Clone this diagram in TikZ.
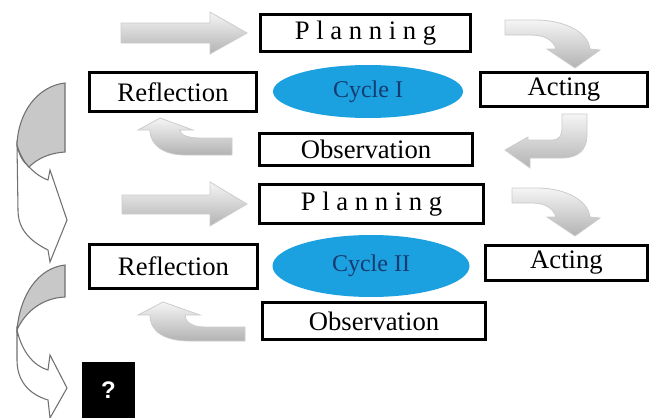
\documentclass[tikz,border=0pt]{standalone}
\usepackage{fontspec}
\setmainfont{Liberation Serif}
\setsansfont{Liberation Sans}
\usetikzlibrary{shapes.geometric}

\definecolor{cycleblue}{HTML}{1BA0E0}
\definecolor{cycletext}{HTML}{173A70}
\definecolor{bandgray}{HTML}{C8C8C8}
\definecolor{bandline}{HTML}{707070}

\begin{document}
\begin{tikzpicture}[
  x=0.75pt, y=-0.75pt,
  every node/.style={font=\fontsize{20}{24}\selectfont},
  stage/.style={rectangle, draw, line width=2pt, inner sep=0pt},
  cyclenode/.style={ellipse, fill=cycleblue, inner sep=0pt, text=cycletext, font=\fontsize{18}{22}\selectfont},
  grayarrow/.style={draw=gray!40, line width=0.6pt, top color=gray!8, bottom color=gray!60},
  bandback/.style={draw=bandline, line width=0.8pt, fill=bandgray},
  bandfront/.style={draw=bandline, line width=0.8pt, fill=white}
]
\useasboundingbox (0,0) rectangle (651,418);

% Cycle I
\node[stage, minimum width=157.75pt, minimum height=28pt] (plan1) at (365.5,33) {P l a n n i n g};
\node[stage, minimum width=125.5pt, minimum height=29.5pt] (refl1) at (173,92) {Reflection};
\node[cyclenode, minimum width=142.5pt, minimum height=39.75pt] (cyc1) at (368,91.5) {Cycle I};
\node[stage, minimum width=125.5pt, minimum height=25.75pt] (act1) at (564,89.5) {Acting};
\node[stage, minimum width=160pt, minimum height=24.25pt] (obs1) at (366,149.5) {Observation};

% Cycle II
\node[stage, minimum width=168.25pt, minimum height=29.5pt] (plan2) at (371.5,204) {P l a n n i n g};
\node[stage, minimum width=126.25pt, minimum height=33.25pt] (refl2) at (173.5,266.5) {Reflection};
\node[cyclenode, minimum width=147.75pt, minimum height=46.5pt] (cyc2) at (371,266) {Cycle II};
\node[stage, minimum width=121.75pt, minimum height=26.5pt] (act2) at (566.5,263) {Acting};
\node[stage, minimum width=167.5pt, minimum height=28pt] (obs2) at (374,321) {Observation};

\node[fill=black, minimum width=39.75pt, minimum height=42pt, text=white,
  font=\sffamily\bfseries\fontsize{18}{20}\selectfont] (next) at (108.5,390) {?};

% block arrows of cycle I
\path[grayarrow] (121,23) -- (210,23) -- (210,12) -- (247,33) -- (210,54) -- (210,43) -- (121,43) -- cycle;
\path[grayarrow] (505,20) -- (535,20) .. controls (565,20) and (588,32) .. (590,49) -- (600,50) -- (575,68)
  -- (547,49) -- (556,49) .. controls (553,40) and (545,35) .. (530,35) -- (505,35) -- cycle;
\path[grayarrow] (562,114) -- (587,114) -- (587,135) .. controls (587,150) and (578,158) .. (562,158) -- (530,158)
  -- (530,168) -- (505,150) -- (528,137) -- (528,140) -- (552,140) .. controls (559,140) and (562,136) .. (562,128) -- cycle;
\path[grayarrow] (232,138) -- (200,138) .. controls (188,138) and (180,135) .. (180,130) -- (193,130) -- (160,118)
  -- (138,130) -- (150,130) .. controls (150,146) and (165,155) .. (185,155) -- (232,155) -- cycle;

% block arrows of cycle II
\path[grayarrow] (122,195) -- (210,195) -- (210,182) -- (247,204) -- (210,226) -- (210,214) -- (122,214) -- cycle;
\path[grayarrow] (512,188) -- (537,188) .. controls (565,188) and (588,200) .. (590,217) -- (600,218) -- (575,236)
  -- (547,217) -- (556,217) .. controls (553,208) and (545,203) .. (532,203) -- (512,203) -- cycle;
\path[grayarrow] (245,327) -- (205,327) .. controls (192,327) and (185,322) .. (185,315) -- (200,315) -- (163,302)
  -- (138,315) -- (150,315) .. controls (150,332) and (165,341) .. (190,341) -- (245,341) -- cycle;

% big curved arrows on the left
\path[bandfront] (17,145) .. controls (19,155) and (23,162) .. (29,167) .. controls (36,174) and (42,178) .. (48,180)
  -- (50,170) -- (67,220) -- (50,262) -- (48,250) .. controls (28,240) and (18,228) .. (18,210) -- cycle;
\path[bandback] (65,83) .. controls (38,86) and (18,112) .. (17,145) .. controls (20,155) and (24,162) .. (29,167)
  .. controls (38,158) and (50,153) .. (65,152) -- cycle;

\path[bandfront] (17,330) .. controls (22,352) and (34,366) .. (48,370) -- (50,355) -- (67,388) -- (50,418)
  -- (48,400) .. controls (28,394) and (17,380) .. (17,360) -- cycle;
\path[bandback] (65,265) .. controls (38,268) and (20,295) .. (17,330) .. controls (25,312) and (42,298) .. (65,297) -- cycle;

\end{tikzpicture}
\end{document}
